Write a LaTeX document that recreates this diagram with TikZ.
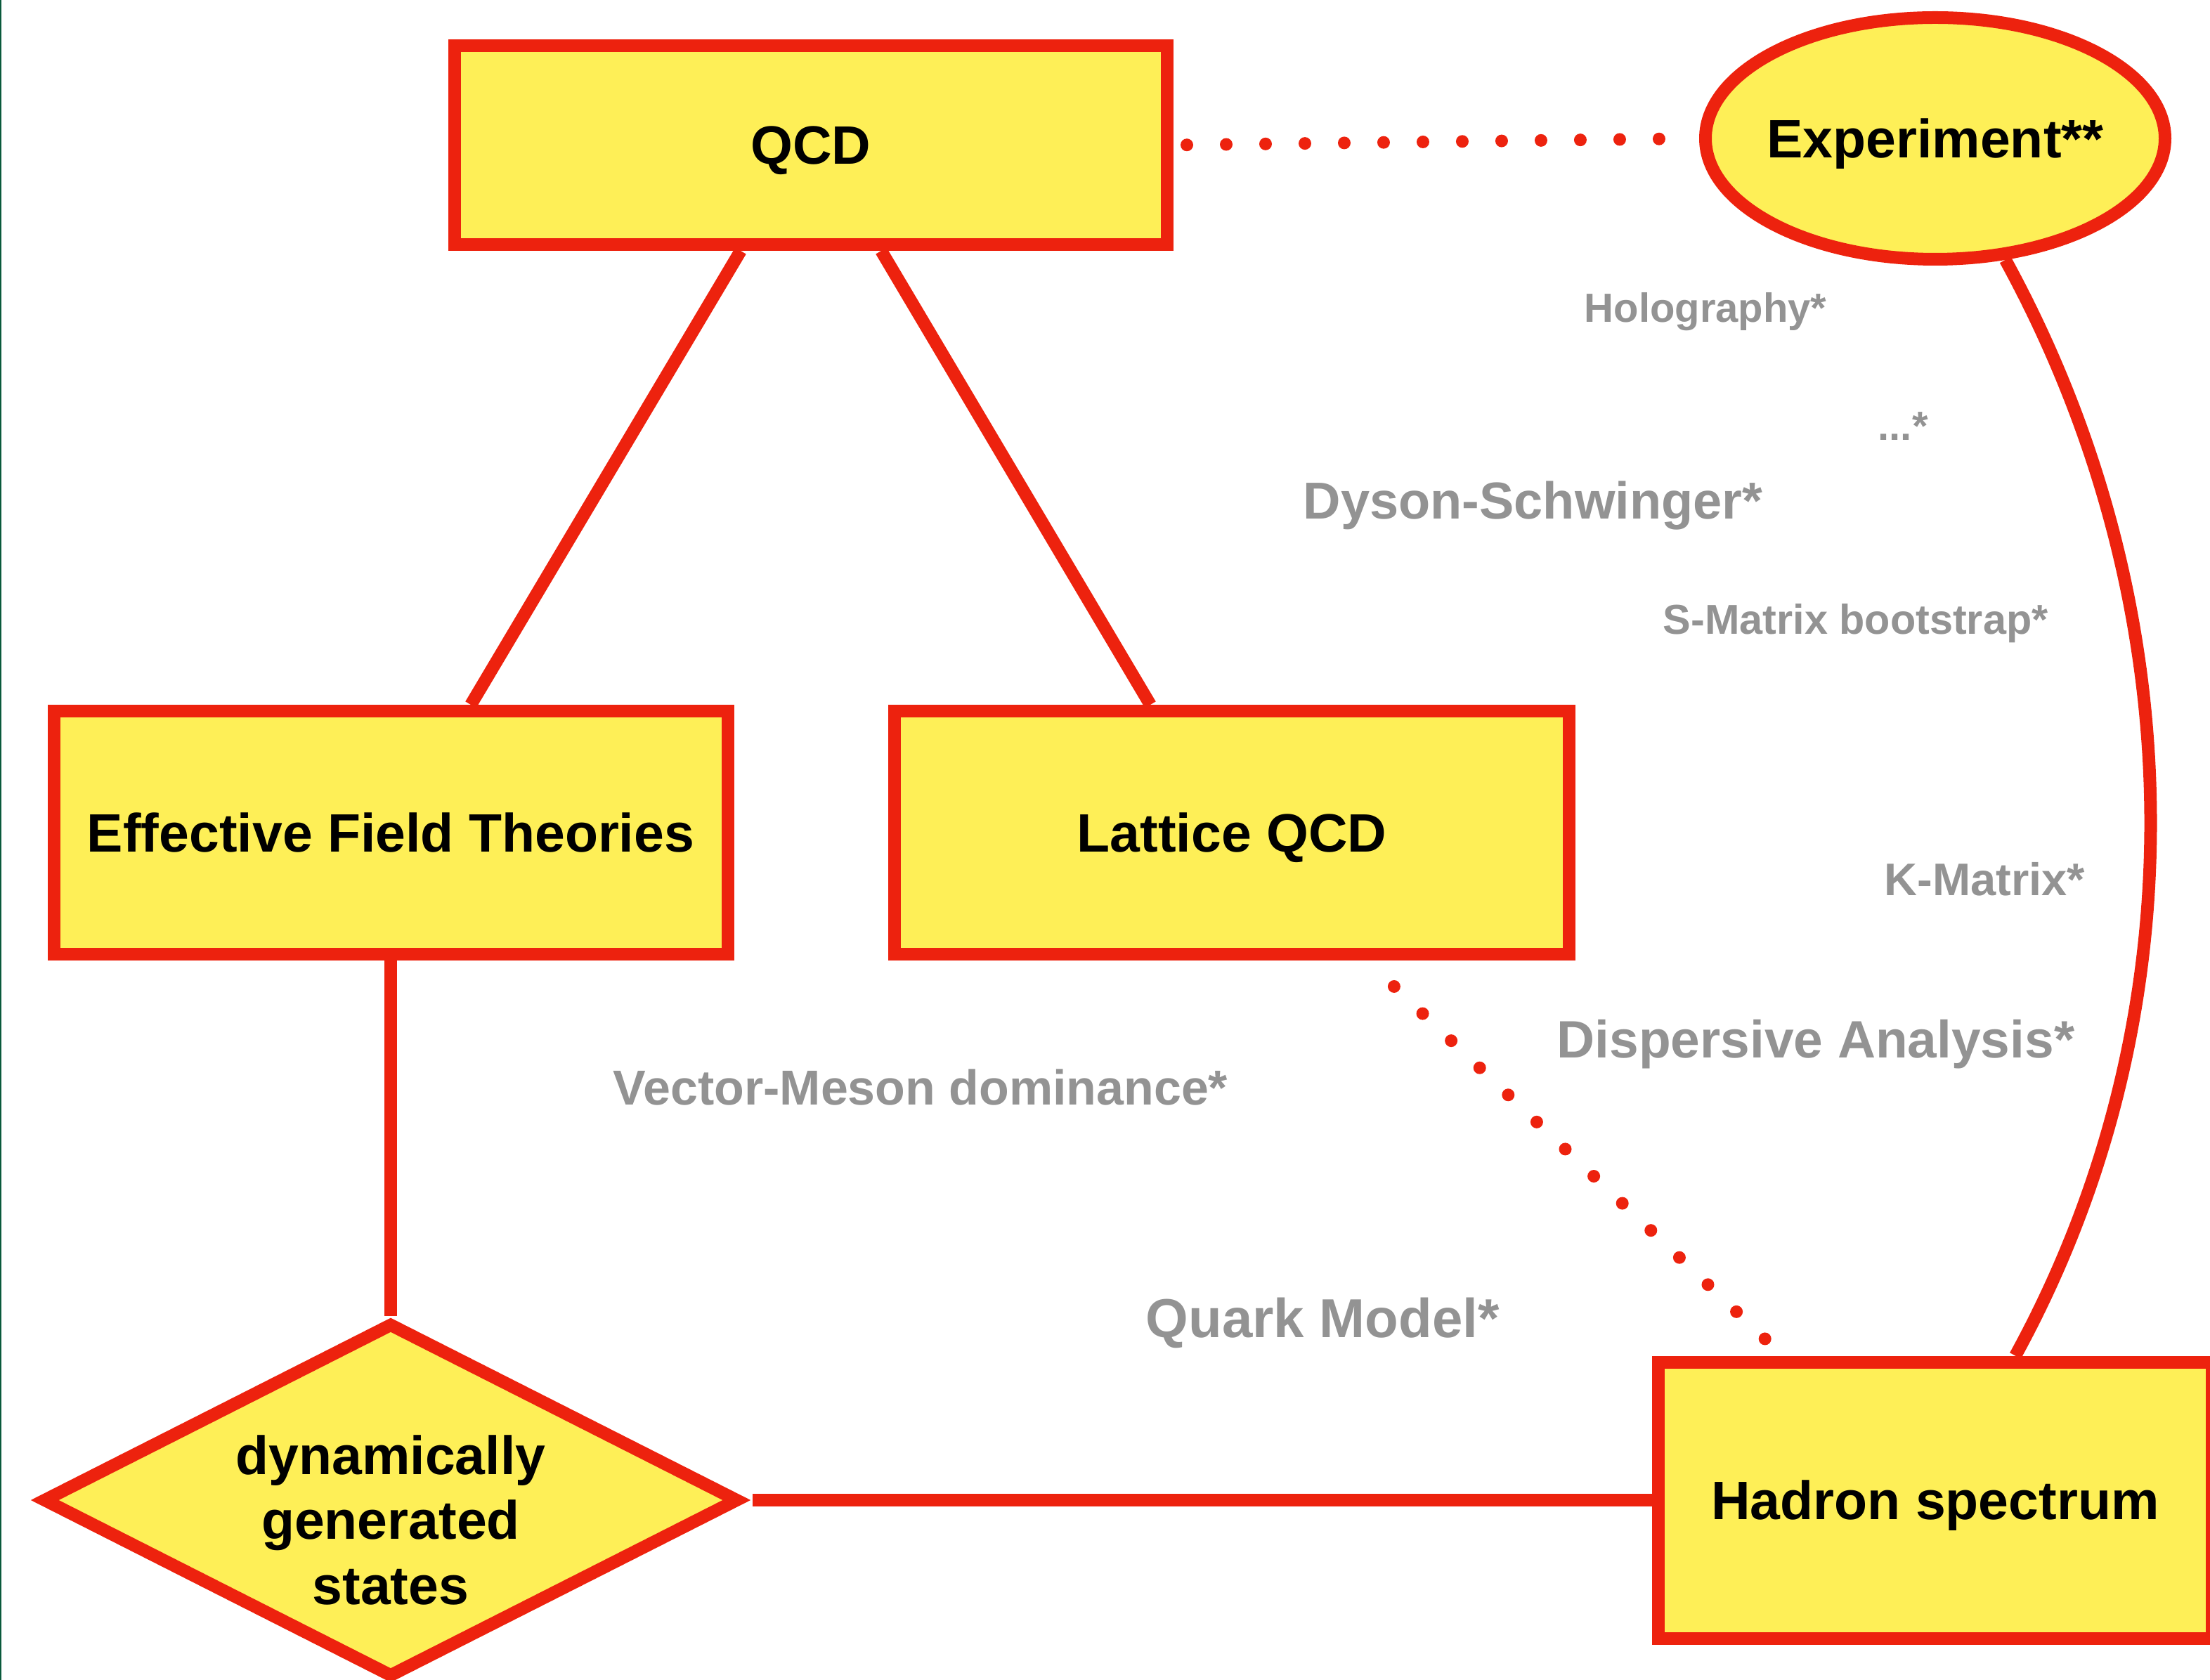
\documentclass[tikz,border=0pt]{standalone}
\usepackage{fontspec}
\setmainfont{Liberation Sans}
\usetikzlibrary{shapes.geometric,calc}
\definecolor{hred}{RGB}{237,34,14}
\definecolor{hyellow}{RGB}{254,239,87}
\definecolor{hgray}{RGB}{147,147,147}
\definecolor{hgreen}{RGB}{10,90,60}
\begin{document}
\begin{tikzpicture}[
  shapestyle/.style={draw=hred, fill=hyellow, line width=0.18cm, inner sep=0pt, text=black},
  box/.style={shapestyle, rectangle,
     font=\fontsize{21.9pt}{26.3pt}\selectfont\bfseries, text height=0.55cm, text depth=0pt},
  conn/.style={draw=hred, line width=0.18cm},
  dotconn/.style={draw=hred, line width=0.18cm, line cap=round, dash pattern=on 0pt off 0.56cm},
  lbl/.style={text=hgray, inner sep=0pt, anchor=base west}
]
\useasboundingbox (0,0) rectangle (31.45,-23.91);
\clip (0,0) rectangle (31.45,-23.91);
\fill[hgreen] (0,0) rectangle (0.022,-23.91);

% main nodes
\node[box, minimum width=10.14cm, minimum height=2.83cm] (qcd) at (11.54,-2.065) {QCD};
\node[box, ellipse, minimum width=6.54cm, minimum height=3.44cm, inner xsep=-0.3cm] (exp) at (27.54,-1.97) {Experiment**};
\node[box, minimum width=9.59cm, minimum height=3.46cm] (eft) at (5.56,-11.85) {Effective Field Theories};
\node[box, minimum width=9.60cm, minimum height=3.46cm] (lat) at (17.53,-11.85) {Lattice QCD};
\node[box, minimum width=7.88cm, minimum height=3.93cm] (had) at (27.54,-21.35) {Hadron spectrum};
\node[shapestyle, diamond, minimum width=9.92cm, minimum height=5.06cm] (dgs) at (5.56,-21.35) {};
\node[anchor=base, inner sep=0pt, font=\fontsize{21.9pt}{26.46pt}\selectfont\bfseries] (dgstext) at (5.56,-20.98)
  {\begin{tabular}[t]{@{}c@{}}dynamically\\generated\\states\end{tabular}};

% gray labels
\node[lbl, font=\fontsize{16.5pt}{20pt}\selectfont\bfseries] (holo) at (22.54,-4.59) {Holography*};
\node[lbl, font=\fontsize{16.5pt}{20pt}\selectfont\bfseries] (etc) at (26.72,-6.27) {...*};
\node[lbl, font=\fontsize{21.05pt}{25pt}\selectfont\bfseries] (dyson) at (18.54,-7.39) {Dyson-Schwinger*};
\node[lbl, font=\fontsize{16.9pt}{20pt}\selectfont\bfseries] (smat) at (23.66,-9.03) {S-Matrix bootstrap*};
\node[lbl, font=\fontsize{18.5pt}{22pt}\selectfont\bfseries] (kmat) at (26.81,-12.75) {K-Matrix*};
\node[lbl, font=\fontsize{21.3pt}{25pt}\selectfont\bfseries] (disp) at (22.15,-15.06) {Dispersive Analysis*};
\node[lbl, font=\fontsize{19.9pt}{24pt}\selectfont\bfseries] (vmd) at (8.72,-15.73) {Vector-Meson dominance*};
\node[lbl, font=\fontsize{22.2pt}{26pt}\selectfont\bfseries] (quark) at (16.30,-19.03) {Quark Model*};

% connectors
\draw[conn] ($(qcd.south)+(-1.00,0)$) -- ($(eft.north)+(1.14,0)$);
\draw[conn] ($(qcd.south)+(1.00,0)$) -- ($(lat.north)+(-1.16,0)$);
\draw[conn] (eft.south) -- (dgs.north);
\draw[conn] ($(dgs.east)+(0.10,0)$) -- (had.west);
\draw[dotconn, shorten <=0.19cm, shorten >=0.56cm] (qcd.east) -- (exp.west);
\draw[dotconn, shorten <=0.537cm, shorten >=0.348cm] ($(lat.south)+(1.92,0)$) -- ($(had.north)+(-2.17,0)$);
\draw[conn] (exp.-60) .. controls +(2.66,-4.86) and +(2.66,4.86) .. ($(had.north)+(1.14,0)$);
\end{tikzpicture}
\end{document}
